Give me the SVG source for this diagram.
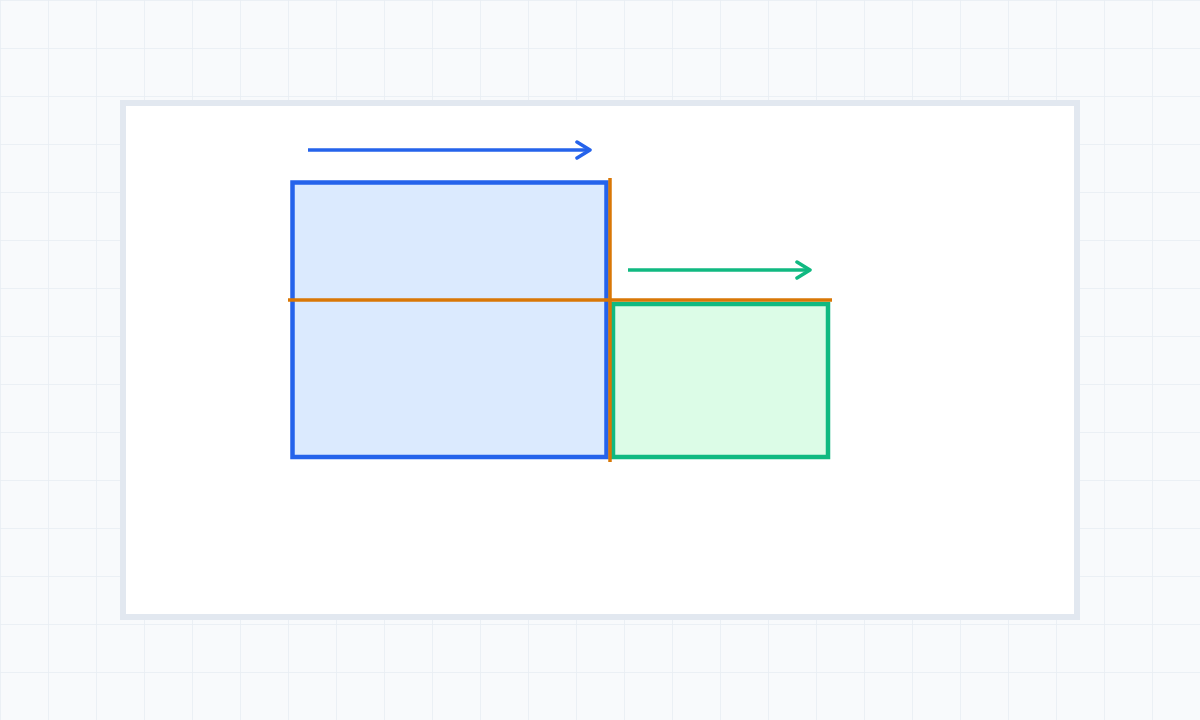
<svg xmlns="http://www.w3.org/2000/svg" width="1200" height="720" viewBox="0 0 1200 720">
  <defs>
    <pattern id="grid" width="48" height="48" patternUnits="userSpaceOnUse">
      <path d="M48 0 L0 0 0 48" fill="none" stroke="#e8edf3" stroke-width="1.5"/>
    </pattern>
    <marker id="headBlue" viewBox="0 0 20 20" refX="16" refY="10" markerWidth="20" markerHeight="20" markerUnits="userSpaceOnUse" orient="auto">
      <path d="M3 2 L16 10 L3 18" fill="none" stroke="#2563eb" stroke-width="3.5" stroke-linecap="round" stroke-linejoin="round"/>
    </marker>
    <marker id="headGreen" viewBox="0 0 20 20" refX="16" refY="10" markerWidth="20" markerHeight="20" markerUnits="userSpaceOnUse" orient="auto">
      <path d="M3 2 L16 10 L3 18" fill="none" stroke="#10b981" stroke-width="3.5" stroke-linecap="round" stroke-linejoin="round"/>
    </marker>
  </defs>
  <style>
    .panel { fill: #ffffff; stroke: #e2e8f0; stroke-width: 6; }
    .blue { fill: #dbeafe; stroke: #2563eb; stroke-width: 4.5; }
    .green { fill: #dcfce7; stroke: #10b981; stroke-width: 4.5; }
    .cut { stroke: #d97706; stroke-width: 3.5; fill: none; }
    .arrowB { stroke: #2563eb; stroke-width: 3.5; fill: none; }
    .arrowG { stroke: #10b981; stroke-width: 3.5; fill: none; }
  </style>
  <rect x="0" y="0" width="1200" height="720" fill="#f8fafc"/>
  <rect x="0" y="0" width="1200" height="720" fill="url(#grid)"/>
  <rect class="panel" x="123" y="103" width="954" height="514"/>
  <g id="blue-block">
    <rect class="blue" x="292.5" y="182.5" width="314" height="274.5"/>
  </g>
  <g id="green-block">
    <rect class="green" x="613" y="304" width="215" height="153"/>
  </g>
  <g id="connectors">
    <line class="cut" x1="610" y1="178" x2="610" y2="462"/>
    <line class="cut" x1="288" y1="300" x2="832" y2="300"/>
    <line class="arrowB" x1="308" y1="150" x2="590" y2="150" marker-end="url(#headBlue)"/>
    <line class="arrowG" x1="628" y1="270" x2="810" y2="270" marker-end="url(#headGreen)"/>
  </g>
</svg>
